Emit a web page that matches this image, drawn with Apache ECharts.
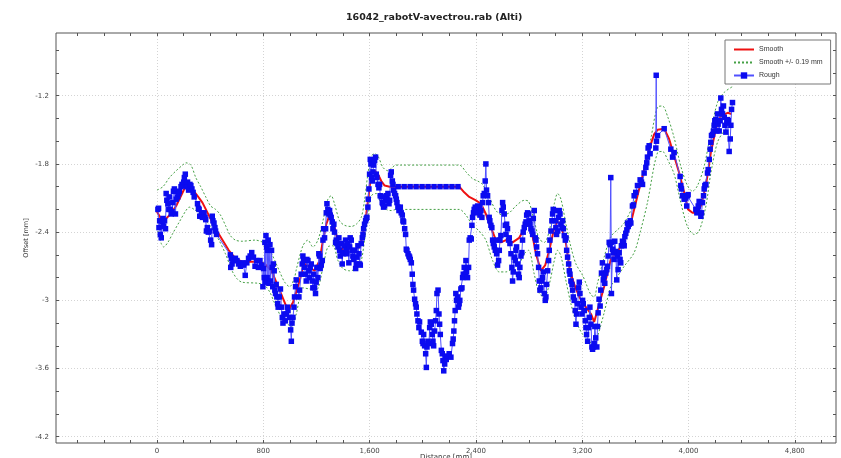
<!DOCTYPE html>
<html><head><meta charset="utf-8">
<script src="https://cdn.jsdelivr.net/npm/echarts@6/dist/echarts.min.js"></script>
<style>html,body{margin:0;padding:0;background:#fff}#c{width:841px;height:458px}</style>
</head><body><div id="c"></div>
<script>
const chartTitle = '16042_rabotV-avectrou.rab (Alti)';
const xName = 'Distance [mm]';
const yName = 'Offset [mm]';
const xLabelValues = [0, 800, 1600, 2400, 3200, 4000, 4800];
const yLabelValues = [-4.2, -3.6, -3, -2.4, -1.8, -1.2];
const xMinorTicks = [-600,-400,-200,0,200,400,600,800,1000,1200,1400,1600,1800,2000,2200,2400,2600,2800,3000,3200,3400,3600,3800,4000,4200,4400,4600,4800,5000];
const yMinorTicks = [-4.2,-4.0,-3.8,-3.6,-3.4,-3.2,-3.0,-2.8,-2.6,-2.4,-2.2,-2.0,-1.8,-1.6,-1.4,-1.2,-1.0,-0.8];

const smoothPts = [[0,-2.22],[45,-2.31],[94,-2.25],[144,-2.17],[218,-1.99],[292,-2.06],[342,-2.14],[441,-2.37],[540,-2.56],[590,-2.63],[639,-2.66],[763,-2.66],[812,-2.68],[862,-2.74],[912,-2.88],[986,-3.09],[1023,-3.02],[1073,-2.83],[1098,-2.71],[1123,-2.68],[1148,-2.71],[1186,-2.74],[1224,-2.65],[1249,-2.47],[1274,-2.33],[1299,-2.25],[1324,-2.30],[1349,-2.42],[1374,-2.53],[1412,-2.56],[1462,-2.55],[1500,-2.55],[1525,-2.53],[1550,-2.42],[1575,-2.24],[1595,-2.06],[1613,-1.87],[1638,-1.86],[1663,-1.89],[1688,-1.95],[1713,-1.99],[1751,-2.00],[1801,-2.00],[2275,-2.00],[2312,-2.05],[2350,-2.09],[2400,-2.12],[2438,-2.15],[2475,-2.24],[2513,-2.36],[2551,-2.47],[2588,-2.49],[2626,-2.47],[2676,-2.49],[2726,-2.45],[2764,-2.37],[2789,-2.31],[2814,-2.36],[2852,-2.59],[2889,-2.74],[2922,-2.69],[2952,-2.56],[2990,-2.36],[3015,-2.30],[3040,-2.34],[3078,-2.50],[3108,-2.74],[3140,-2.86],[3178,-2.97],[3228,-3.06],[3266,-3.12],[3290,-3.19],[3365,-2.88],[3415,-2.64],[3465,-2.57],[3516,-2.48],[3566,-2.32],[3616,-2.08],[3666,-1.85],[3704,-1.67],[3741,-1.54],[3767,-1.50],[3817,-1.49],[3854,-1.58],[3892,-1.73],[3930,-1.88],[3967,-2.05],[3997,-2.20],[4030,-2.23],[4068,-2.23],[4093,-2.17],[4131,-1.99],[4168,-1.70],[4206,-1.49],[4243,-1.38],[4294,-1.35],[4324,-1.36]];

const upperPts = [[0,-2.03],[45,-2.00],[94,-1.92],[144,-1.86],[193,-1.81],[218,-1.79],[255,-1.81],[292,-1.92],[329,-2.00],[367,-2.09],[404,-2.17],[441,-2.20],[478,-2.25],[515,-2.34],[552,-2.43],[590,-2.47],[639,-2.48],[738,-2.47],[812,-2.50],[850,-2.56],[887,-2.65],[924,-2.75],[961,-2.84],[998,-2.88],[1035,-2.80],[1048,-2.73],[1098,-2.52],[1136,-2.47],[1173,-2.53],[1211,-2.47],[1249,-2.30],[1286,-2.11],[1311,-2.08],[1336,-2.15],[1374,-2.30],[1412,-2.34],[1462,-2.35],[1500,-2.33],[1537,-2.27],[1562,-2.12],[1587,-1.89],[1613,-1.73],[1638,-1.71],[1663,-1.73],[1700,-1.83],[1738,-1.86],[1763,-1.84],[1796,-1.81],[1826,-1.81],[2275,-1.81],[2325,-1.87],[2375,-1.93],[2413,-1.95],[2450,-1.98],[2500,-2.09],[2551,-2.21],[2601,-2.25],[2651,-2.23],[2701,-2.17],[2764,-2.12],[2797,-2.13],[2839,-2.30],[2877,-2.46],[2915,-2.49],[2952,-2.39],[2990,-2.15],[3015,-2.06],[3040,-2.11],[3078,-2.33],[3115,-2.53],[3153,-2.68],[3203,-2.78],[3228,-2.85],[3265,-2.95],[3290,-2.97],[3315,-2.85],[3365,-2.62],[3415,-2.44],[3465,-2.38],[3516,-2.32],[3591,-2.14],[3666,-1.85],[3716,-1.58],[3767,-1.30],[3804,-1.29],[3842,-1.38],[3892,-1.57],[3942,-1.82],[3992,-1.99],[4030,-2.04],[4068,-1.99],[4118,-1.82],[4168,-1.52],[4218,-1.26],[4269,-1.17],[4331,-1.12]];

const lowerPts = [[7,-2.39],[32,-2.50],[50,-2.53],[82,-2.49],[119,-2.41],[168,-2.31],[218,-2.21],[243,-2.18],[280,-2.20],[317,-2.24],[367,-2.30],[416,-2.37],[466,-2.47],[515,-2.59],[565,-2.74],[602,-2.81],[639,-2.84],[763,-2.85],[812,-2.87],[850,-2.93],[887,-3.03],[936,-3.15],[973,-3.20],[1011,-3.23],[1048,-3.12],[1098,-2.89],[1148,-2.90],[1198,-2.91],[1249,-2.71],[1286,-2.53],[1324,-2.52],[1362,-2.65],[1399,-2.72],[1449,-2.74],[1500,-2.72],[1537,-2.65],[1562,-2.47],[1587,-2.27],[1613,-2.08],[1650,-2.06],[1688,-2.15],[1725,-2.20],[1763,-2.21],[1801,-2.20],[2275,-2.20],[2325,-2.25],[2375,-2.34],[2425,-2.39],[2475,-2.47],[2526,-2.65],[2576,-2.75],[2626,-2.75],[2676,-2.72],[2726,-2.68],[2764,-2.59],[2797,-2.56],[2839,-2.77],[2877,-2.94],[2915,-2.97],[2952,-2.86],[2990,-2.65],[3015,-2.56],[3040,-2.61],[3078,-2.83],[3115,-3.03],[3153,-3.18],[3203,-3.30],[3253,-3.36],[3290,-3.39],[3315,-3.32],[3365,-3.11],[3415,-2.88],[3465,-2.79],[3516,-2.70],[3591,-2.58],[3641,-2.38],[3691,-2.14],[3767,-1.70],[3804,-1.69],[3842,-1.76],[3892,-1.89],[3942,-2.14],[3992,-2.35],[4043,-2.42],[4080,-2.39],[4131,-2.17],[4168,-1.88],[4218,-1.61],[4269,-1.51],[4331,-1.45]];

const flatPts = [[1815,-2.00],[1860,-2.00],[1905,-2.00],[1950,-2.00],[1995,-2.00],[2040,-2.00],[2085,-2.00],[2130,-2.00],[2175,-2.00],[2220,-2.00],[2265,-2.00]];

const roughPts = [
[7,-2.20],[12,-2.19],[15,-2.36],[20,-2.30],[25,-2.42],[32,-2.45],[40,-2.31],[45,-2.28],[50,-2.35],[57,-2.30],[64,-2.37],[69,-2.06],[74,-2.12],[82,-2.15],[89,-2.20],[94,-2.09],[99,-2.20],[107,-2.24],[114,-2.22],[119,-2.14],[124,-2.04],[131,-2.02],[139,-2.24],[144,-2.11],[156,-2.09],[163,-2.06],[168,-2.04],[181,-2.00],[188,-1.98],[193,-1.99],[201,-1.96],[206,-1.92],[213,-1.89],[218,-1.98],[225,-2.00],[230,-1.96],[238,-2.03],[248,-1.98],[255,-1.99],[263,-2.02],[272,-2.05],[280,-2.09],[305,-2.15],[312,-2.19],[317,-2.20],[322,-2.26],[337,-2.23],[342,-2.27],[354,-2.23],[362,-2.27],[367,-2.29],[372,-2.39],[379,-2.36],[386,-2.40],[396,-2.39],[404,-2.47],[411,-2.51],[416,-2.26],[421,-2.30],[429,-2.32],[436,-2.36],[441,-2.39],[448,-2.42],
[552,-2.60],[555,-2.71],[560,-2.63],[565,-2.68],[577,-2.65],[590,-2.63],[602,-2.65],[614,-2.68],[627,-2.70],[639,-2.67],[651,-2.69],[664,-2.78],[676,-2.67],[689,-2.63],[701,-2.61],[713,-2.58],[726,-2.62],[738,-2.70],[751,-2.65],[763,-2.71],[775,-2.65],[788,-2.69],
[797,-2.88],[802,-2.72],[807,-2.80],[812,-2.49],[816,-2.84],[820,-2.43],[825,-2.53],[829,-2.80],[833,-2.56],[837,-2.47],[842,-2.85],[850,-2.51],[855,-2.83],[862,-2.56],[867,-2.71],[871,-2.88],[876,-2.68],[882,-2.74],[887,-2.91],[892,-2.94],[897,-2.86],[902,-2.97],[908,-3.03],[912,-3.06],[920,-2.97],[929,-2.90],[936,-3.06],[943,-3.15],[948,-3.20],[956,-3.12],[966,-3.18],[973,-3.12],[981,-3.06],[986,-3.09],[998,-3.15],[1006,-3.26],[1011,-3.36],[1016,-3.20],[1023,-3.15],[1031,-3.06],[1035,-2.97],[1043,-2.88],[1048,-2.82],
[1068,-2.97],[1073,-2.91],[1085,-2.77],[1093,-2.68],[1098,-2.61],[1103,-2.65],[1111,-2.71],[1118,-2.77],[1123,-2.83],[1128,-2.64],[1136,-2.65],[1143,-2.74],[1148,-2.80],[1153,-2.71],[1161,-2.68],[1168,-2.83],[1173,-2.89],[1178,-2.77],[1186,-2.89],[1193,-2.94],[1198,-2.84],[1203,-2.71],[1211,-2.80],[1218,-2.59],[1223,-2.61],[1228,-2.72],[1236,-2.69],[1244,-2.65],[1249,-2.47],[1254,-2.37],[1261,-2.45],[1269,-2.37],[1274,-2.23],[1279,-2.15],[1286,-2.20],[1294,-2.24],[1299,-2.21],[1304,-2.25],[1311,-2.27],[1319,-2.31],[1324,-2.37],[1331,-2.33],[1336,-2.40],[1344,-2.49],[1349,-2.47],[1354,-2.50],[1362,-2.53],[1369,-2.45],[1374,-2.56],[1379,-2.61],[1387,-2.50],[1394,-2.68],[1399,-2.58],[1404,-2.59],[1412,-2.52],[1419,-2.47],[1424,-2.56],[1429,-2.59],[1437,-2.50],[1444,-2.67],[1449,-2.53],[1454,-2.45],[1462,-2.47],[1469,-2.56],[1474,-2.61],[1479,-2.64],[1487,-2.56],[1495,-2.72],[1500,-2.68],[1505,-2.62],[1512,-2.52],[1520,-2.59],[1525,-2.68],[1530,-2.69],[1537,-2.50],[1545,-2.45],[1550,-2.42],[1555,-2.37],[1562,-2.33],[1570,-2.30],[1575,-2.28],[1580,-2.27],[1587,-2.18],[1590,-2.11],[1595,-2.02],[1600,-1.89],[1605,-1.76],[1610,-1.80],[1615,-1.92],[1620,-1.95],[1625,-1.87],[1630,-1.81],[1638,-1.77],[1645,-1.74],[1650,-1.89],[1655,-1.92],[1663,-1.98],[1670,-2.01],[1675,-1.98],[1680,-2.08],[1688,-2.09],[1695,-2.14],[1700,-2.15],[1705,-2.18],[1713,-2.17],[1720,-2.12],[1725,-2.08],[1731,-2.11],[1738,-2.06],[1746,-2.15],[1751,-2.12],[1758,-1.90],[1763,-1.87],[1771,-1.95],[1776,-1.98],[1781,-2.03],[1788,-2.06],[1796,-2.08],[1801,-2.11],[1806,-2.14],[1813,-2.18],[1821,-2.21],[1826,-2.20],[1831,-2.18],[1838,-2.23],[1846,-2.25],[1851,-2.30],[1856,-2.31],[1864,-2.37],[1871,-2.42],[1876,-2.55],[1881,-2.56],[1889,-2.59],[1896,-2.61],[1901,-2.62],[1906,-2.64],[1914,-2.67],[1921,-2.77],[1926,-2.86],[1931,-2.91],[1939,-2.99],[1946,-3.03],[1951,-3.06],[1956,-3.12],[1964,-3.18],[1971,-3.24],[1976,-3.19],[1989,-3.28],[1997,-3.36],[2002,-3.38],[2007,-3.30],[2014,-3.40],[2022,-3.47],[2027,-3.59],[2032,-3.41],[2039,-3.36],[2047,-3.38],[2052,-3.24],[2057,-3.19],[2064,-3.21],[2072,-3.30],[2077,-3.36],[2082,-3.40],[2089,-3.27],[2097,-3.18],[2102,-3.09],[2107,-2.94],[2115,-2.91],[2122,-3.12],[2127,-3.21],[2132,-3.30],[2140,-3.44],[2147,-3.47],[2152,-3.53],[2158,-3.62],[2165,-3.56],[2172,-3.50],[2177,-3.52],
[2187,-3.49],[2199,-3.47],[2212,-3.50],[2224,-3.38],[2229,-3.34],[2234,-3.27],[2239,-3.18],[2244,-3.09],[2249,-2.94],[2254,-3.00],[2262,-2.97],[2269,-3.06],[2274,-3.03],[2279,-3.00],[2287,-2.90],[2295,-2.89],[2300,-2.80],[2305,-2.77],[2312,-2.71],[2320,-2.77],[2325,-2.65],[2330,-2.75],[2337,-2.80],[2345,-2.71],[2350,-2.47],[2357,-2.45],[2365,-2.46],[2370,-2.34],[2375,-2.27],[2382,-2.23],[2387,-2.20],[2395,-2.18],[2400,-2.21],[2405,-2.20],[2413,-2.17],[2420,-2.23],[2425,-2.18],[2430,-2.25],[2438,-2.21],[2445,-2.27],[2450,-2.14],[2455,-2.08],[2463,-2.06],[2470,-1.95],[2475,-1.80],[2480,-2.03],[2488,-2.08],[2495,-2.14],[2500,-2.27],[2505,-2.30],[2513,-2.34],[2520,-2.36],[2526,-2.47],[2531,-2.50],[2538,-2.53],[2546,-2.56],[2551,-2.47],[2556,-2.59],[2563,-2.69],[2571,-2.65],[2576,-2.56],[2581,-2.47],[2588,-2.43],[2596,-2.21],[2601,-2.14],[2606,-2.18],[2613,-2.24],[2621,-2.34],[2626,-2.42],[2631,-2.33],[2638,-2.37],[2646,-2.47],[2651,-2.45],[2656,-2.50],[2664,-2.59],[2671,-2.71],[2676,-2.83],[2681,-2.75],[2689,-2.62],[2696,-2.65],[2701,-2.56],[2706,-2.53],[2714,-2.68],[2721,-2.77],[2726,-2.80],[2731,-2.71],[2739,-2.61],[2746,-2.58],[2751,-2.47],[2756,-2.40],[2764,-2.36],[2771,-2.33],[2777,-2.31],[2782,-2.25],[2789,-2.23],[2797,-2.24],[2802,-2.30],[2807,-2.33],[2814,-2.37],[2822,-2.39],[2827,-2.42],[2832,-2.28],[2839,-2.21],[2847,-2.45],[2852,-2.47],[2857,-2.53],[2864,-2.59],[2872,-2.71],[2877,-2.83],[2882,-2.91],[2889,-2.89],[2897,-2.83],[2902,-2.80],[2907,-2.75],[2915,-2.94],[2922,-3.00],[2927,-2.97],[2932,-2.86],[2940,-2.74],[2947,-2.65],[2952,-2.56],[2957,-2.47],[2965,-2.39],[2972,-2.30],[2977,-2.24],[2982,-2.20],[2990,-2.21],[2997,-2.30],[3002,-2.36],[3007,-2.42],[3015,-2.39],[3022,-2.27],[3027,-2.21],[3033,-2.24],[3040,-2.33],[3048,-2.36],[3053,-2.30],[3058,-2.37],[3065,-2.43],[3073,-2.47],[3078,-2.45],[3083,-2.56],[3090,-2.62],[3098,-2.68],[3103,-2.74],[3108,-2.77],[3115,-2.83],[3123,-2.86],[3128,-2.91],[3133,-2.97],[3140,-3.00],[3148,-3.09],[3153,-3.21],[3158,-3.12],[3166,-3.03],[3173,-2.89],[3178,-2.84],[3183,-2.94],[3191,-3.06],[3198,-3.12],[3203,-3.00],[3208,-3.03],[3216,-3.09],[3223,-3.18],[3228,-3.24],[3233,-3.30],[3241,-3.36],[3248,-3.24],[3253,-3.15],[3258,-3.06],[3266,-3.21],[3273,-3.41],[3278,-3.43],
[3285,-3.41],[3290,-3.38],[3295,-3.23],[3302,-3.33],[3310,-3.41],[3315,-3.23],[3320,-3.11],[3327,-2.99],[3335,-3.05],[3340,-2.91],[3345,-2.76],[3352,-2.67],[3360,-2.82],[3365,-2.79],[3370,-2.85],[3378,-2.76],[3385,-2.73],[3390,-2.70],[3395,-2.61],[3403,-2.49],[3410,-2.51],[3415,-1.92],[3418,-2.49],[3420,-2.94],[3428,-2.55],[3435,-2.58],[3440,-2.64],[3445,-2.48],[3453,-2.57],[3460,-2.82],[3465,-2.61],[3470,-2.73],[3478,-2.58],[3485,-2.64],[3490,-2.67],[3495,-2.52],[3503,-2.48],[3511,-2.49],[3516,-2.52],[3521,-2.44],[3528,-2.41],[3536,-2.38],[3541,-2.32],[3546,-2.35],[3553,-2.33],[3561,-2.30],[3566,-2.32],[3578,-2.17],[3586,-2.16],[3591,-2.08],[3603,-2.05],[3616,-1.99],[3636,-1.94],[3646,-1.96],[3654,-1.98],[3666,-1.88],[3679,-1.83],[3686,-1.79],[3691,-1.74],[3696,-1.66],[3704,-1.64],[3711,-1.71],[3754,-1.66],[3757,-1.02],[3759,-1.60],[3767,-1.55],[3817,-1.49],[3867,-1.67],[3880,-1.74],[3892,-1.70],[3937,-1.91],[3942,-1.99],[3947,-2.02],[3955,-2.08],[3967,-2.11],[3980,-2.10],[3987,-2.17],[3992,-2.08],[3997,-2.07],[4055,-2.20],[4063,-2.23],[4068,-2.21],[4073,-2.17],[4080,-2.13],[4093,-2.26],[4098,-2.23],[4105,-2.14],[4113,-2.08],[4118,-2.02],[4123,-1.99],[4131,-1.98],[4143,-1.88],[4148,-1.85],[4156,-1.76],[4163,-1.67],[4168,-1.61],[4173,-1.55],[4181,-1.54],[4188,-1.51],[4193,-1.46],[4198,-1.42],[4206,-1.41],[4213,-1.51],[4218,-1.36],[4223,-1.45],[4231,-1.51],[4238,-1.42],[4243,-1.22],[4248,-1.32],[4256,-1.36],[4263,-1.29],[4269,-1.39],[4274,-1.46],[4281,-1.52],[4289,-1.44],[4294,-1.41],[4299,-1.42],[4306,-1.69],[4314,-1.58],[4319,-1.46],[4324,-1.32],[4331,-1.26]
];

const X_MIN = -760, X_MAX = 5110, Y_MIN = -4.255, Y_MAX = -0.648;
const FONT = 'DejaVu Sans';
const FONT2 = 'Liberation Sans';
const chart = echarts.init(document.getElementById('c'), null, {renderer: 'canvas'});

function minorAxis(pos, min, max, ticks) {
  return {
    type: 'value', position: pos, min: min, max: max,
    axisLine: {show: false, onZero: false},
    axisTick: {show: true, inside: true, length: 3, customValues: ticks, lineStyle: {color: '#555'}},
    axisLabel: {show: false},
    splitLine: {show: false}
  };
}

const rectSym = 'rect';
const roughColor = '#0b0bf0';

chart.setOption({
  animation: false,
  backgroundColor: '#ffffff',
  title: {
    text: chartTitle, left: 341, top: 8,
    textStyle: {fontFamily: FONT, fontSize: 9.5, fontWeight: 'bold', color: '#222'}
  },
  grid: {left: 56, right: 5, top: 33, bottom: 15, show: true, borderColor: '#555', borderWidth: 1,
         backgroundColor: 'transparent', outerBoundsMode: 'none', containLabel: false},
  legend: {
    orient: 'vertical', left: 725, top: 40,
    padding: [6, 8, 5, 8], itemGap: 6, itemWidth: 20, itemHeight: 8,
    backgroundColor: '#fff', borderColor: '#777', borderWidth: 1,
    textStyle: {fontFamily: FONT2, fontSize: 7, color: '#333'},
    data: [
      {name: 'Smooth', itemStyle: {opacity: 0}},
      {name: 'Smooth +/- 0.19 mm', itemStyle: {opacity: 0}},
      {name: 'Rough'}
    ]
  },
  xAxis: [
    {
      type: 'value', position: 'bottom', min: X_MIN, max: X_MAX,
      name: xName, nameLocation: 'middle', nameGap: 11, nameMoveOverlap: false,
      nameTextStyle: {fontFamily: FONT, fontSize: 7, color: '#333'},
      axisLine: {show: false, onZero: false},
      axisTick: {show: false, customValues: xLabelValues},
      axisLabel: {customValues: xLabelValues, fontFamily: FONT, fontSize: 7, color: '#444', margin: 5},
      splitLine: {show: true, lineStyle: {color: '#d4d4d4', type: [1, 2], width: 1}}
    },
    minorAxis('bottom', X_MIN, X_MAX, xMinorTicks),
    minorAxis('top', X_MIN, X_MAX, xMinorTicks)
  ],
  yAxis: [
    {
      type: 'value', position: 'left', min: Y_MIN, max: Y_MAX,
      name: yName, nameLocation: 'middle', nameGap: 26, nameRotate: 90, nameMoveOverlap: false,
      nameTextStyle: {fontFamily: FONT, fontSize: 6.5, color: '#333'},
      axisLine: {show: false, onZero: false},
      axisTick: {show: false, customValues: yLabelValues},
      axisLabel: {customValues: yLabelValues, fontFamily: FONT, fontSize: 7, color: '#444', margin: 7},
      splitLine: {show: true, lineStyle: {color: '#d4d4d4', type: [1, 2], width: 1}}
    },
    minorAxis('left', Y_MIN, Y_MAX, yMinorTicks),
    minorAxis('right', Y_MIN, Y_MAX, yMinorTicks)
  ],
  series: [
    {
      name: 'Smooth +/- 0.19 mm', type: 'line', data: upperPts, symbol: 'none', smooth: 0.3,
      lineStyle: {color: '#45a045', width: 1, type: [2, 2]}, itemStyle: {color: '#45a045'}, z: 2
    },
    {
      name: 'Smooth +/- 0.19 mm', type: 'line', data: lowerPts, symbol: 'none', smooth: 0.3,
      lineStyle: {color: '#45a045', width: 1, type: [2, 2]}, itemStyle: {color: '#45a045'}, z: 2
    },
    {
      name: 'Smooth', type: 'line', data: smoothPts, symbol: 'none',
      lineStyle: {color: '#ee1111', width: 2}, itemStyle: {color: '#ee1111'}, z: 3
    },
    {
      name: 'Rough', type: 'line', data: roughPts, symbol: rectSym, symbolSize: 5.5, showAllSymbol: true,
      lineStyle: {color: '#5050ff', width: 1}, itemStyle: {color: roughColor}, z: 4
    },
    {
      name: 'Rough', type: 'line', data: flatPts, symbol: rectSym, symbolSize: 5.5, showAllSymbol: true,
      lineStyle: {color: '#5050ff', width: 0}, itemStyle: {color: roughColor}, z: 4
    }
  ]
});
</script>
</body></html>
